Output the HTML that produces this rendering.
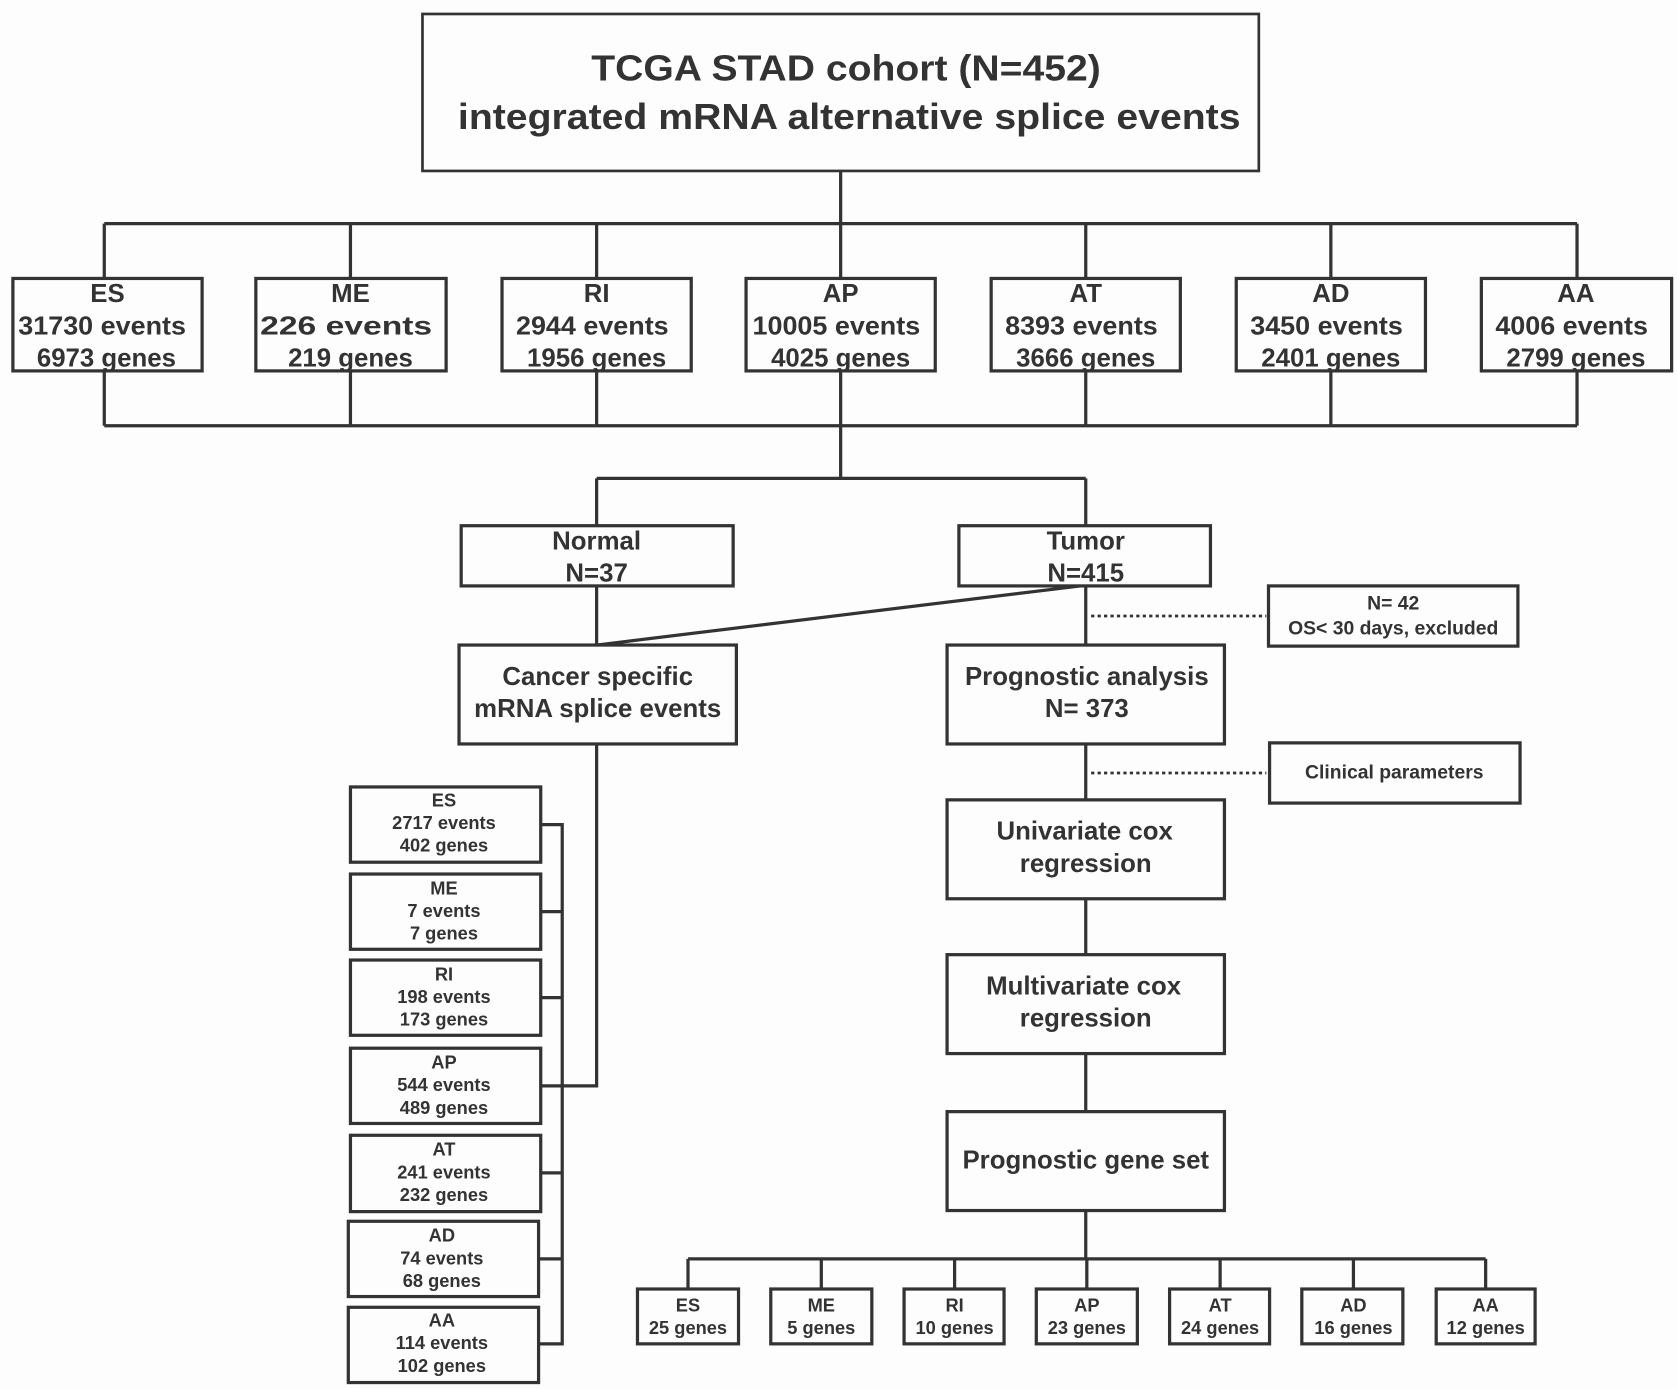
<!DOCTYPE html>
<html><head><meta charset="utf-8"><style>
html,body{margin:0;padding:0;background:#fdfdfd;}
svg{display:block;}
text{font-family:"Liberation Sans",Arial,sans-serif;font-weight:bold;fill:#333;text-anchor:middle;}
</style></head><body>
<svg width="1677" height="1389" viewBox="0 0 1560 1292" preserveAspectRatio="none" xmlns="http://www.w3.org/2000/svg">
<rect width="1560" height="1292" fill="#fdfdfd"/>
<g fill="none" stroke="#333" stroke-width="3">
<rect x="393" y="13" width="778" height="146" stroke-width="2.5"/>
<path d="M782 159V208M97 208H1467M97 208V259M326 208V259M555 208V259M782 208V259M1010 208V259M1238 208V259M1467 208V259"/>
<rect x="12" y="259" width="176" height="86"/><rect x="238" y="259" width="177" height="86"/>
<rect x="467" y="259" width="176" height="86"/><rect x="694" y="259" width="176" height="86"/>
<rect x="922" y="259" width="176" height="86"/><rect x="1150" y="259" width="176" height="86"/>
<rect x="1378" y="259" width="177" height="86"/>
<path d="M97 345V396M326 345V396M555 345V396M782 345V445M1010 345V396M1238 345V396M1467 345V396M97 396H1467"/>
<path d="M555 445H1010M555 445V489M1010 445V489"/>
<rect x="429" y="489" width="253" height="56"/><rect x="892" y="489" width="234" height="56"/>
<path d="M555 545V600M1005 545L555 600M1010 545V600"/>
<path d="M1015 573H1178M1015 719H1178" stroke-dasharray="3 3" stroke-width="2.5"/>
<rect x="1180" y="545" width="232" height="56"/>
<rect x="427" y="600" width="258" height="92"/><rect x="881" y="600" width="258" height="92"/>
<path d="M1010 692V744"/>
<rect x="1181" y="691" width="233" height="56"/>
<rect x="881" y="744" width="258" height="92"/>
<path d="M1010 836V888"/>
<rect x="881" y="888" width="258" height="92"/>
<path d="M1010 980V1034"/>
<rect x="881" y="1034" width="258" height="92"/>
<path d="M1010 1126V1171M640 1171H1382M640 1171V1199M764 1171V1199M888 1171V1199M1011 1171V1199M1135 1171V1199M1259 1171V1199M1382 1171V1199"/>
<rect x="593" y="1199" width="94" height="51"/><rect x="717" y="1199" width="94" height="51"/>
<rect x="841" y="1199" width="93" height="51"/><rect x="964" y="1199" width="94" height="51"/>
<rect x="1088" y="1199" width="93" height="51"/><rect x="1211" y="1199" width="94" height="51"/>
<rect x="1336" y="1199" width="92" height="51"/>
<path d="M555 692V1010H503"/>
<path d="M503 767H523V1250H501M503 848H523M503 928H523M503 1091H523M501 1171H523"/>
<rect x="326" y="732" width="177" height="70"/><rect x="326" y="813" width="177" height="70"/>
<rect x="326" y="893" width="177" height="70"/><rect x="326" y="975" width="177" height="70"/>
<rect x="326" y="1056" width="177" height="71"/><rect x="324" y="1136" width="177" height="70"/>
<rect x="324" y="1216" width="177" height="70"/>
</g>
<g font-size="34">
<text x="787" y="75" textLength="474" lengthAdjust="spacingAndGlyphs">TCGA STAD cohort (N=452)</text>
<text x="790" y="120" textLength="728" lengthAdjust="spacingAndGlyphs">integrated mRNA alternative splice events</text>
</g>
<g font-size="24">
<text x="100" y="281">ES</text><text x="95" y="311" textLength="156" lengthAdjust="spacingAndGlyphs">31730 events</text><text x="99" y="341">6973 genes</text>
<text x="326" y="281">ME</text><text x="322" y="311" textLength="160" lengthAdjust="spacingAndGlyphs">226 events</text><text x="326" y="341">219 genes</text>
<text x="555" y="281">RI</text><text x="551" y="311" textLength="142" lengthAdjust="spacingAndGlyphs">2944 events</text><text x="555" y="341">1956 genes</text>
<text x="782" y="281">AP</text><text x="778" y="311" textLength="156" lengthAdjust="spacingAndGlyphs">10005 events</text><text x="782" y="341">4025 genes</text>
<text x="1010" y="281">AT</text><text x="1006" y="311" textLength="142" lengthAdjust="spacingAndGlyphs">8393 events</text><text x="1010" y="341">3666 genes</text>
<text x="1238" y="281">AD</text><text x="1234" y="311" textLength="142" lengthAdjust="spacingAndGlyphs">3450 events</text><text x="1238" y="341">2401 genes</text>
<text x="1466" y="281">AA</text><text x="1462" y="311" textLength="142" lengthAdjust="spacingAndGlyphs">4006 events</text><text x="1466" y="341">2799 genes</text>
<text x="555" y="511">Normal</text><text x="555" y="541">N=37</text>
<text x="1010" y="511">Tumor</text><text x="1010" y="541">N=415</text>
<text x="556" y="637">Cancer specific</text><text x="556" y="667">mRNA splice events</text>
<text x="1011" y="637">Prognostic analysis</text><text x="1011" y="667">N= 373</text>
<text x="1009" y="781">Univariate cox</text><text x="1010" y="811">regression</text>
<text x="1008" y="925">Multivariate cox</text><text x="1010" y="955">regression</text>
<text x="1010" y="1087">Prognostic gene set</text>
</g>
<g font-size="18">
<text x="1296" y="567">N= 42</text><text x="1296" y="590">OS&lt; 30 days, excluded</text>
<text x="1297" y="724">Clinical parameters</text>
</g>
<g font-size="17">
<text x="640" y="1220">ES</text><text x="640" y="1241">25 genes</text>
<text x="764" y="1220">ME</text><text x="764" y="1241">5 genes</text>
<text x="888" y="1220">RI</text><text x="888" y="1241">10 genes</text>
<text x="1011" y="1220">AP</text><text x="1011" y="1241">23 genes</text>
<text x="1135" y="1220">AT</text><text x="1135" y="1241">24 genes</text>
<text x="1259" y="1220">AD</text><text x="1259" y="1241">16 genes</text>
<text x="1382" y="1220">AA</text><text x="1382" y="1241">12 genes</text>
<text x="413" y="750">ES</text><text x="413" y="771">2717 events</text><text x="413" y="792">402 genes</text>
<text x="413" y="832">ME</text><text x="413" y="853">7 events</text><text x="413" y="874">7 genes</text>
<text x="413" y="912">RI</text><text x="413" y="933">198 events</text><text x="413" y="954">173 genes</text>
<text x="413" y="994">AP</text><text x="413" y="1015">544 events</text><text x="413" y="1036">489 genes</text>
<text x="413" y="1075">AT</text><text x="413" y="1096">241 events</text><text x="413" y="1117">232 genes</text>
<text x="411" y="1155">AD</text><text x="411" y="1176">74 events</text><text x="411" y="1197">68 genes</text>
<text x="411" y="1234">AA</text><text x="411" y="1255">114 events</text><text x="411" y="1276">102 genes</text>
</g>
</svg>
</body></html>
